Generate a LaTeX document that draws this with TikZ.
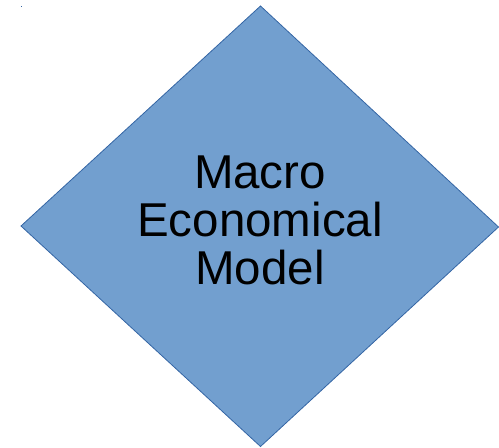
\documentclass[tikz,border=0pt]{standalone}
\usepackage{fontspec}
\setmainfont{Liberation Sans}
\definecolor{diafill}{HTML}{729FCF}
\definecolor{diadraw}{HTML}{3465A4}
\tikzset{diamondshape/.style={fill=diafill, draw=diadraw, line width=0.8pt, line join=miter}}
\begin{document}
\begin{tikzpicture}[x=1pt,y=-1pt]
\useasboundingbox (0,0) rectangle (499,448);
\coordinate (T) at (260.5,6);
\coordinate (R) at (498.5,227);
\coordinate (B) at (260.5,446.5);
\coordinate (L) at (21,226);
\fill[diadraw] (20.5,5.5) rectangle (22,7);
\draw[diamondshape] (T) -- (R) -- (B) -- (L) -- cycle;
\node[align=center, font=\fontsize{47.5}{48}\selectfont, inner sep=0pt] (label) at (260,220) {Macro\\Economical\\Model};
\end{tikzpicture}
\end{document}
